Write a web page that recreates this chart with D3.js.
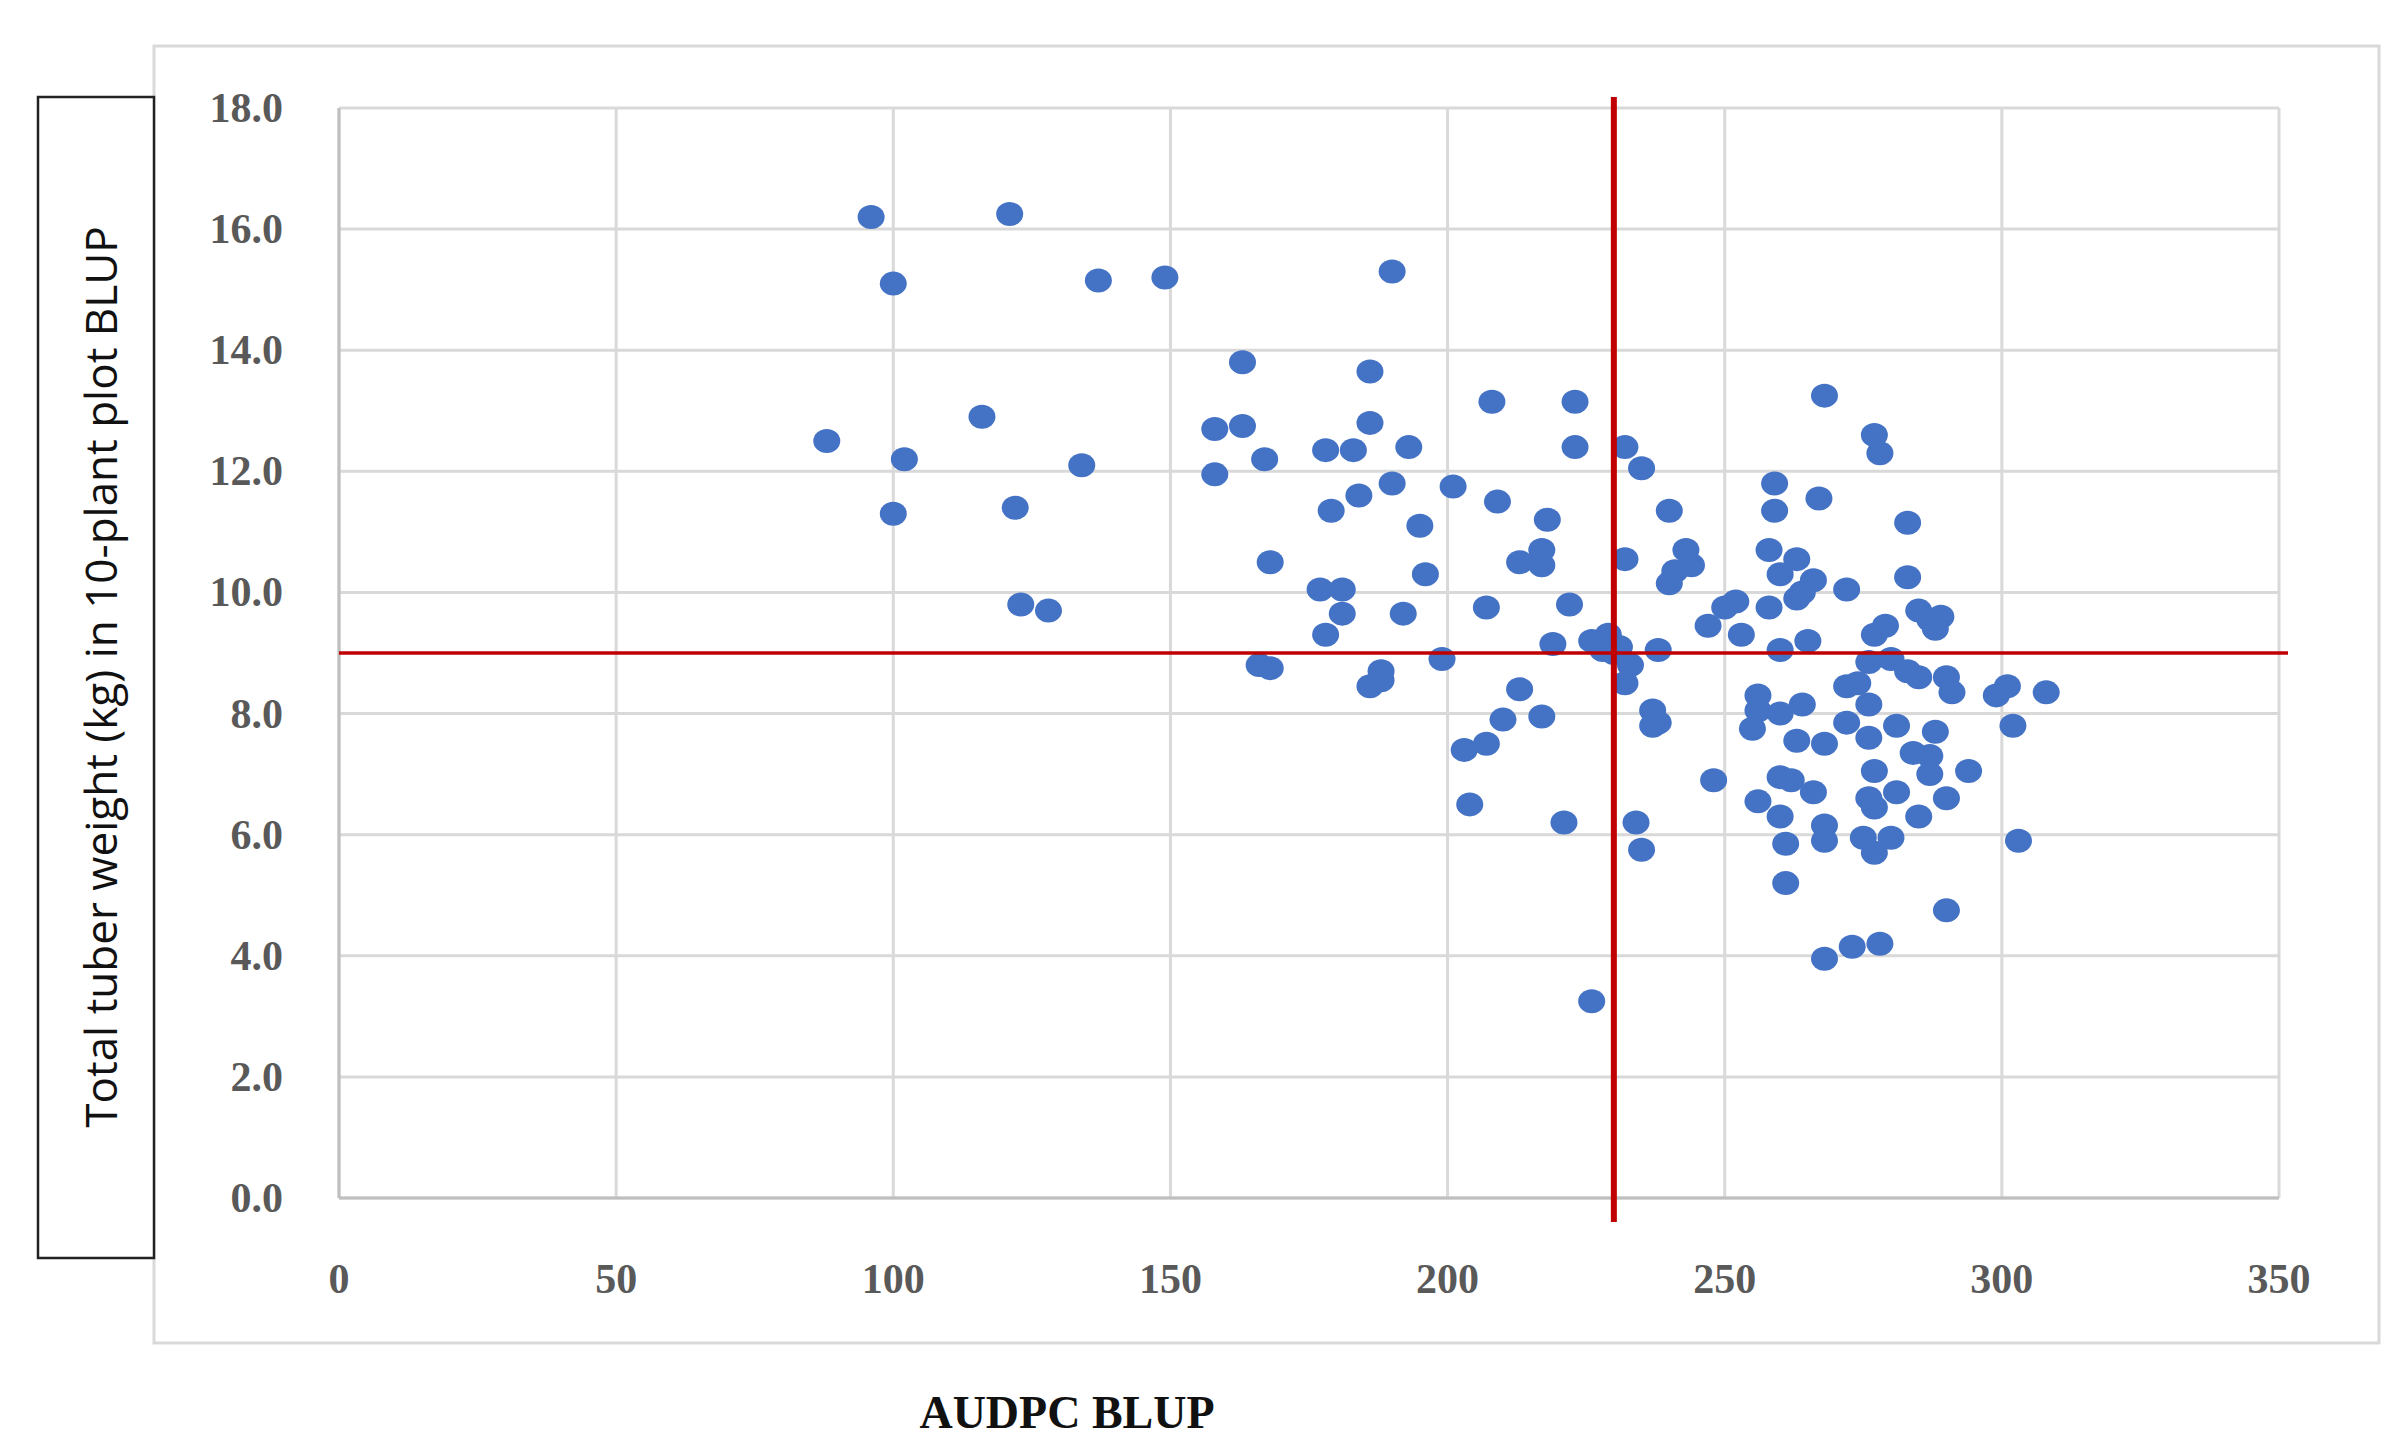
<!DOCTYPE html>
<html><head><meta charset="utf-8">
<script src="https://cdn.jsdelivr.net/npm/d3@7"></script>
<style>body{margin:0;background:#fff}</style>
</head><body><svg id="chart" width="2402" height="1453"></svg>
<script>
// AUDPC BLUP vs tuber weight BLUP
const audpc = [96,121,100,137,149,88,102,100,116,122,134,123,128,
  190,163,186,158,163,158,167,178,183,186,193,208,223,223,179,184,190,201,209,195,218,168,217,213,217,177,181,196,181,178,192,207,222,166,168,199,186,188,188,219,226,229,230,228,231,232,233,213,210,217,203,207,204,221,226,234,235,237,238,237,238,
  232,235,240,232,243,241,244,240,247,250,252,253,248,
  259,259,267,268,277,278,258,263,260,266,272,263,264,258,265,260,283,283,285,287,289,288,277,279,276,280,283,285,272,274,290,291,299,301,308,256,256,255,260,264,276,263,268,272,276,281,284,287,288,302,256,260,262,266,277,281,287,290,294,260,268,261,268,276,277,275,277,280,285,303,261,290,268,273,278];
const weight = [16.2,16.25,15.1,15.15,15.2,12.5,12.2,11.3,12.9,11.4,12.1,9.8,9.7,
  15.3,13.8,13.65,12.7,12.75,11.95,12.2,12.35,12.35,12.8,12.4,13.15,13.15,12.4,11.35,11.6,11.8,11.75,11.5,11.1,11.2,10.5,10.7,10.5,10.45,10.05,10.05,10.3,9.65,9.3,9.65,9.75,9.8,8.8,8.75,8.9,8.45,8.55,8.7,9.15,9.2,9.3,9.0,9.05,9.1,8.5,8.8,8.4,7.9,7.95,7.4,7.5,6.5,6.2,3.25,6.2,5.75,8.05,7.85,7.8,9.05,
  12.4,12.05,11.35,10.55,10.7,10.35,10.45,10.15,9.45,9.75,9.85,9.3,6.9,
  11.8,11.35,11.55,13.25,12.6,12.3,10.7,10.55,10.3,10.2,10.05,9.9,10.0,9.75,9.2,9.05,11.15,10.25,9.7,9.55,9.6,9.4,9.3,9.45,8.85,8.9,8.7,8.6,8.45,8.5,8.6,8.35,8.3,8.45,8.35,8.3,8.05,7.75,8.0,8.15,8.15,7.55,7.5,7.85,7.6,7.8,7.35,7.3,7.7,7.8,6.55,6.95,6.9,6.7,7.05,6.7,7.0,6.6,7.05,6.3,6.15,5.85,5.9,6.6,6.45,5.95,5.7,5.95,6.3,5.9,5.2,4.75,3.95,4.15,4.2];
const xTicks = [0,50,100,150,200,250,300,350];
const yTicks = [0,2,4,6,8,10,12,14,16,18];
const refX = 230, refY = 9.0;

const svg = d3.select('#chart');
const x = d3.scaleLinear().domain([0,350]).range([339,2279]);
const y = d3.scaleLinear().domain([0,18]).range([1198,108]);

svg.append('rect').attr('x',154).attr('y',46).attr('width',2225).attr('height',1297)
  .attr('fill','none').attr('stroke','#d9d9d9').attr('stroke-width',3);

const grid = svg.append('g').attr('stroke','#d9d9d9').attr('stroke-width',3);
grid.selectAll('.gx').data(xTicks).join('line')
  .attr('x1',d=>x(d)).attr('x2',d=>x(d)).attr('y1',y(18)).attr('y2',y(0));
grid.selectAll('.gy').data(yTicks).join('line')
  .attr('x1',x(0)).attr('x2',x(350)).attr('y1',d=>y(d)).attr('y2',d=>y(d));
svg.append('line').attr('x1',x(0)).attr('x2',x(0)).attr('y1',y(18)).attr('y2',y(0))
  .attr('stroke','#bfbfbf').attr('stroke-width',3);
svg.append('line').attr('x1',x(0)).attr('x2',x(350)).attr('y1',y(0)).attr('y2',y(0))
  .attr('stroke','#bfbfbf').attr('stroke-width',3);

const tickFont = {'font-family':'"Liberation Serif", "DejaVu Serif", serif','font-size':42,'font-weight':'bold','fill':'#595959'};
const xl = svg.append('g').selectAll('text').data(xTicks).join('text')
  .attr('x',d=>x(d)).attr('y',1293).attr('text-anchor','middle').text(d=>d);
const yl = svg.append('g').selectAll('text').data(yTicks).join('text')
  .attr('x',283).attr('y',d=>y(d)+14).attr('text-anchor','end').text(d=>d.toFixed(1));
for (const [k,v] of Object.entries(tickFont)) { xl.attr(k,v); yl.attr(k,v); }

svg.append('g').selectAll('ellipse').data(audpc.map((a,i)=>[a,weight[i]])).join('ellipse')
  .attr('cx',d=>x(d[0])).attr('cy',d=>y(d[1])).attr('rx',13.5).attr('ry',12)
  .attr('fill','#4472c4');

svg.append('line').attr('x1',x(0)).attr('x2',2288).attr('y1',y(refY)).attr('y2',y(refY))
  .attr('stroke','#c00000').attr('stroke-width',3.5);
svg.append('line').attr('x1',x(refX)).attr('x2',x(refX)).attr('y1',97).attr('y2',1222)
  .attr('stroke','#c00000').attr('stroke-width',6);

svg.append('rect').attr('x',38).attr('y',97).attr('width',116).attr('height',1161)
  .attr('fill','#fff').attr('stroke','#222').attr('stroke-width',2.5);
svg.append('text').attr('transform','translate(117,677) rotate(-90)')
  .attr('text-anchor','middle').attr('font-family','"Open Sans", "Noto Sans", sans-serif')
  .attr('font-size',44).attr('fill','#111').text('Total tuber weight (kg) in 10-plant plot BLUP');

svg.append('text').attr('x',1067).attr('y',1428).attr('text-anchor','middle')
  .attr('font-family','"Liberation Serif", serif').attr('font-weight','bold')
  .attr('font-size',46).attr('fill','#111').text('AUDPC BLUP');
</script></body></html>
